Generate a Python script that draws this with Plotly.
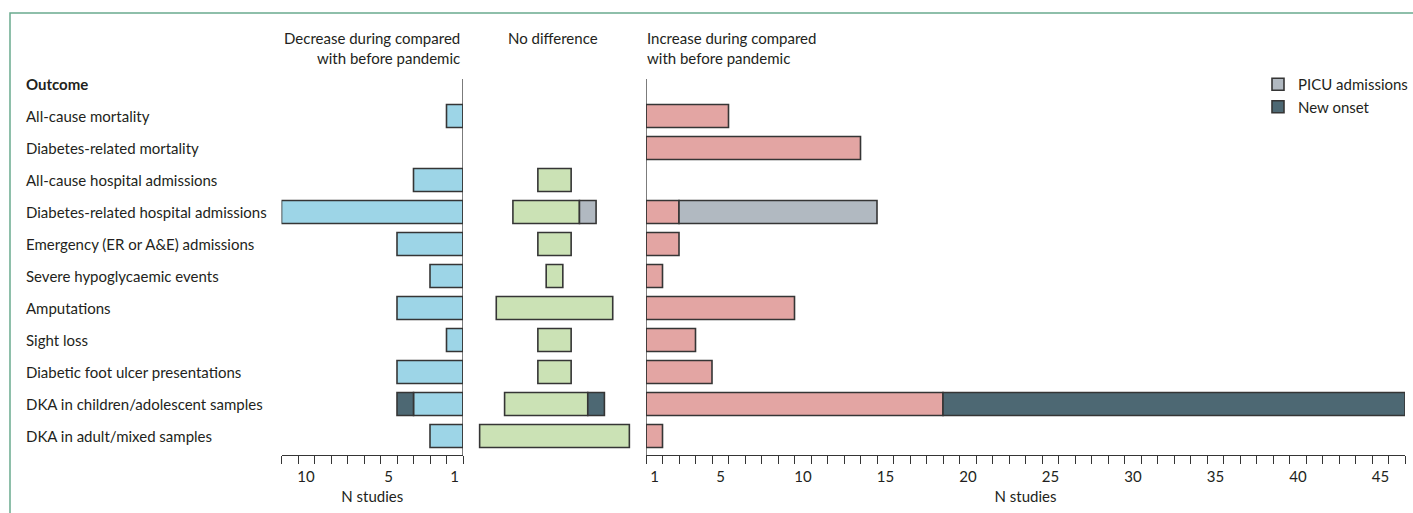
import plotly.graph_objects as go

# ---- data -------------------------------------------------------------
outcomes = [
    "All-cause mortality",
    "Diabetes-related mortality",
    "All-cause hospital admissions",
    "Diabetes-related hospital admissions",
    "Emergency (ER or A&E) admissions",
    "Severe hypoglycaemic events",
    "Amputations",
    "Sight loss",
    "Diabetic foot ulcer presentations",
    "DKA in children/adolescent samples",
    "DKA in adult/mixed samples",
]

# number of studies reporting a decrease during vs before the pandemic
decrease_all = [1, None, 3, 11, 4, 2, 4, 1, 4, 3, 2]
decrease_new_onset = [None, None, None, None, None, None, None, None, None, 1, None]

# number of studies reporting no difference
nodiff_all = [None, None, 2, 4, 2, 1, 7, 2, 2, 5, 9]
nodiff_picu = [None, None, None, 1, None, None, None, None, None, None, None]
nodiff_new_onset = [None, None, None, None, None, None, None, None, None, 1, None]

# number of studies reporting an increase
increase_all = [5, 13, None, 2, 2, 1, 9, 3, 4, 18, 1]
increase_picu = [None, None, None, 12, None, None, None, None, None, None, None]
increase_new_onset = [None, None, None, None, None, None, None, None, None, 28, None]

left_tick_labels = {1: "1", 5: "5", 10: "10"}
right_tick_labels = {1: "1", 5: "5", 10: "10", 15: "15", 20: "20", 25: "25",
                     30: "30", 35: "35", 40: "40", 45: "45"}
left_max = 11
right_max = 46

# ---- styling ----------------------------------------------------------
W, H = 1413, 513
FONT = "Lato"
FS = 15
TXT = "#231f20"
EDGE = "#353535"
C_DEC = "#9dd5e7"
C_NODIFF = "#cbe2b5"
C_INC = "#e3a5a3"
C_PICU = "#b1b9c1"
C_NEW = "#4d6873"


def px(x):
    return x / W


def py(y):
    return 1 - y / H


def nz(v):
    return 0 if v is None else v


def bar(values, base, color, xaxis, name, legend=False, rank=1000):
    return go.Bar(
        y=outcomes, x=values, base=base, orientation="h",
        xaxis=xaxis, yaxis="y", width=0.72,
        marker=dict(color=color, line=dict(color=EDGE, width=1.6)),
        name=name, showlegend=legend, legendrank=rank,
        hoverinfo="skip",
    )


fig = go.Figure()

# left panel: decrease (axis runs right-to-left)
fig.add_trace(bar(decrease_all, [0] * len(outcomes), C_DEC, "x", "Decrease"))
fig.add_trace(bar(decrease_new_onset, [nz(v) for v in decrease_all], C_NEW, "x",
                  "New onset"))

# middle panel: no difference, centred on zero
totals = [nz(a) + nz(b) + nz(c) for a, b, c in zip(nodiff_all, nodiff_picu, nodiff_new_onset)]
mid_base = [-t / 2 for t in totals]
fig.add_trace(bar(nodiff_all, mid_base, C_NODIFF, "x2", "No difference"))
fig.add_trace(bar(nodiff_picu, [b + nz(a) for b, a in zip(mid_base, nodiff_all)],
                  C_PICU, "x2", "PICU admissions"))
fig.add_trace(bar(nodiff_new_onset, [b + nz(a) for b, a in zip(mid_base, nodiff_all)],
                  C_NEW, "x2", "New onset"))

# right panel: increase
fig.add_trace(bar(increase_all, [0] * len(outcomes), C_INC, "x3", "Increase"))
fig.add_trace(bar(increase_picu, [nz(v) for v in increase_all], C_PICU, "x3",
                  "PICU admissions", legend=True, rank=1))
fig.add_trace(bar(increase_new_onset, [nz(v) for v in increase_all], C_NEW, "x3",
                  "New onset", legend=True, rank=2))

# ---- geometry ---------------------------------------------------------
unit = 16.5
zero_left = 463
zero_right = 646
plot_top, plot_bottom = 79, 455
row0, row_step = 116, 32
y_lo = (plot_bottom - row0) / row_step
y_hi = -(row0 - plot_top) / row_step

axis_common = dict(
    showgrid=False, zeroline=False, showline=True, linecolor=EDGE, linewidth=1.3,
    ticks="outside", ticklen=8, tickwidth=1.3, tickcolor=EDGE,
    tickfont=dict(family=FONT, size=FS, color=TXT),
    tickmode="array", anchor="y", fixedrange=True,
    title=dict(text="N studies", font=dict(family=FONT, size=FS, color=TXT), standoff=7),
)

fig.update_layout(
    width=W, height=H,
    margin=dict(l=0, r=0, t=0, b=0),
    paper_bgcolor="white", plot_bgcolor="white",
    barmode="overlay",
    font=dict(family=FONT, size=FS, color=TXT),
    xaxis=dict(
        axis_common,
        domain=[px(zero_left - left_max * unit), px(zero_left)],
        range=[left_max, 0],
        tickvals=list(range(0, left_max + 1)),
        ticktext=[left_tick_labels.get(k, "") for k in range(0, left_max + 1)],
        ticklabelshift=-8,
    ),
    xaxis2=dict(
        domain=[px(zero_left), px(zero_right)],
        range=[-5.5, 5.5], visible=False, anchor="y", fixedrange=True,
    ),
    xaxis3=dict(
        axis_common,
        domain=[px(zero_right), px(zero_right + right_max * unit)],
        range=[0, right_max],
        tickvals=list(range(0, right_max + 1)),
        ticktext=[right_tick_labels.get(k, "") for k in range(0, right_max + 1)],
        ticklabelshift=-8,
    ),
    yaxis=dict(
        domain=[py(plot_bottom), py(plot_top)],
        type="category", categoryorder="array", categoryarray=outcomes,
        range=[y_lo, y_hi], visible=False, anchor="x", fixedrange=True,
    ),
    legend=dict(
        x=px(1258), y=py(68), xanchor="left", yanchor="top",
        font=dict(family=FONT, size=FS, color=TXT),
        bgcolor="rgba(0,0,0,0)", traceorder="normal", tracegroupgap=0,
        itemwidth=30,
    ),
    showlegend=True,
)

shapes = [
    # panel frame
    dict(type="rect", xref="paper", yref="paper",
         x0=px(10), x1=px(W + 20), y0=py(H + 20), y1=py(13),
         line=dict(color="#6aab8f", width=1.5), fillcolor="rgba(0,0,0,0)", layer="below"),
    # zero lines of the decrease / increase panels
    dict(type="line", xref="x", yref="paper", x0=0, x1=0,
         y0=py(plot_bottom), y1=py(plot_top), line=dict(color=EDGE, width=1.3)),
    dict(type="line", xref="x3", yref="paper", x0=0, x1=0,
         y0=py(plot_bottom), y1=py(plot_top), line=dict(color=EDGE, width=1.3)),
]
fig.update_layout(shapes=shapes)

annotations = []
for name in outcomes:
    annotations.append(dict(
        x=px(24), y=name, xref="paper", yref="y", text=name, showarrow=False,
        xanchor="left", yanchor="middle", font=dict(family=FONT, size=FS, color=TXT)))
annotations.append(dict(
    x=px(24), y=py(84), xref="paper", yref="paper", text="<b>Outcome</b>",
    showarrow=False, xanchor="left", yanchor="middle",
    font=dict(family=FONT, size=FS, color=TXT)))
annotations.append(dict(
    x=px(462), y=py(48), xref="paper", yref="paper",
    text="Decrease during compared<br>with before pandemic", align="right",
    showarrow=False, xanchor="right", yanchor="middle",
    font=dict(family=FONT, size=FS, color=TXT)))
annotations.append(dict(
    x=px(553), y=py(38), xref="paper", yref="paper", text="No difference",
    showarrow=False, xanchor="center", yanchor="middle",
    font=dict(family=FONT, size=FS, color=TXT)))
annotations.append(dict(
    x=px(645), y=py(48), xref="paper", yref="paper",
    text="Increase during compared<br>with before pandemic", align="left",
    showarrow=False, xanchor="left", yanchor="middle",
    font=dict(family=FONT, size=FS, color=TXT)))
fig.update_layout(annotations=annotations)

fig.write_html("out.html")
